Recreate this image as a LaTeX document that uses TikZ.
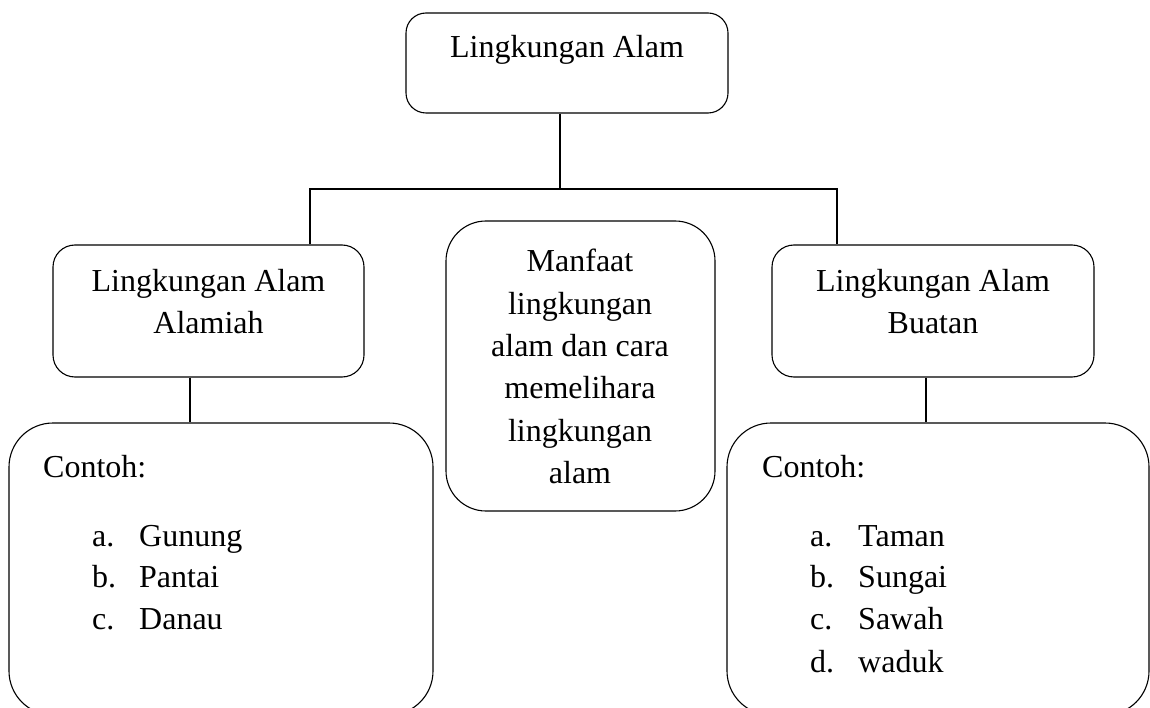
\documentclass[tikz,border=0pt]{standalone}
\usepackage{fontspec}
\setmainfont{Liberation Serif}
\begin{document}
\begin{tikzpicture}[x=1pt,y=-1pt,
  box/.style={draw,line width=1.1pt,inner sep=0pt},
  txt/.style={inner sep=0pt,anchor=base,font=\fontsize{32}{42}\selectfont},
  ltxt/.style={inner sep=0pt,anchor=base west,font=\fontsize{32}{42}\selectfont},
  conn/.style={draw,line width=1.1pt}]
\useasboundingbox (0,0) rectangle (1150,708);
% boxes
\node[box,rounded corners=20pt,minimum width=322pt,minimum height=100pt] (top) at (567,63) {};
\node[box,rounded corners=22pt,minimum width=311pt,minimum height=132pt] (lbox) at (208.5,311) {};
\node[box,rounded corners=22pt,minimum width=322pt,minimum height=132pt] (rbox) at (933,311) {};
\node[box,rounded corners=40pt,minimum width=269pt,minimum height=290pt] (mbox) at (580.5,366) {};
\node[box,rounded corners=44pt,minimum width=424pt,minimum height=292pt] (lex) at (221,569) {};
\node[box,rounded corners=44pt,minimum width=422pt,minimum height=292pt] (rex) at (938,569) {};
% texts
\node[txt] (t1) at (567,58) {Lingkungan Alam};
\node[txt] (l1) at (208.5,291) {Lingkungan Alam};
\node[txt] (l2) at (208.5,333) {Alamiah};
\node[txt] (r1) at (933,291) {Lingkungan Alam};
\node[txt] (r2) at (933,333) {Buatan};
\node[txt] (m1) at (580,272) {Manfaat};
\node[txt] (m2) at (580,314) {lingkungan};
\node[txt] (m3) at (580,356) {alam dan cara};
\node[txt] (m4) at (580,398) {memelihara};
\node[txt] (m5) at (580,441) {lingkungan};
\node[txt] (m6) at (580,483) {alam};
% left list
\node[ltxt] (lc) at (43,477) {Contoh:};
\node[ltxt] (la) at (92,546) {a.};
\node[ltxt] (lai) at (139,546) {Gunung};
\node[ltxt] (lb) at (92,587) {b.};
\node[ltxt] (lbi) at (139,587) {Pantai};
\node[ltxt] (lcc) at (92,629) {c.};
\node[ltxt] (lci) at (139,629) {Danau};
% right list
\node[ltxt] (rc) at (762,477) {Contoh:};
\node[ltxt] (ra) at (810,546) {a.};
\node[ltxt] (rai) at (858,546) {Taman};
\node[ltxt] (rb) at (810,587) {b.};
\node[ltxt] (rbi) at (858,587) {Sungai};
\node[ltxt] (rcc) at (810,629) {c.};
\node[ltxt] (rci) at (858,629) {Sawah};
\node[ltxt] (rd) at (810,672) {d.};
\node[ltxt] (rdi) at (858,672) {waduk};
% connectors
\coordinate (j) at (560,189);
\coordinate (jl) at (310,189);
\coordinate (jr) at (837,189);
\coordinate (cl) at (190,400);
\coordinate (cr) at (926,400);
\draw[conn] (top.south -| j) -- (j);
\draw[conn] (lbox.north -| jl) -- (jl) -- (jr) -- (rbox.north -| jr);
\draw[conn] (lbox.south -| cl) -- (lex.north -| cl);
\draw[conn] (rbox.south -| cr) -- (rex.north -| cr);
\end{tikzpicture}
\end{document}
